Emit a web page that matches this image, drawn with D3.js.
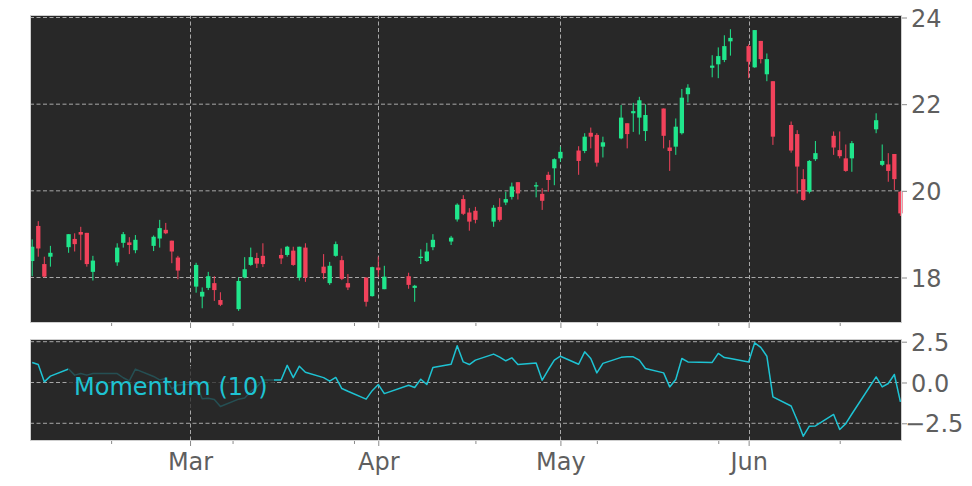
<!DOCTYPE html>
<html><head><meta charset="utf-8">
<script src="https://cdnjs.cloudflare.com/ajax/libs/d3/7.8.5/d3.min.js"></script>
<style>body{margin:0;background:#fff}svg{display:block}text{font-family:"DejaVu Sans",sans-serif}</style>
</head><body><svg id="c" width="972" height="486"></svg>
<script>
const dates = ["2015-02-03","2015-02-04","2015-02-05","2015-02-06","2015-02-09","2015-02-10","2015-02-11","2015-02-12","2015-02-13","2015-02-17",
"2015-02-18","2015-02-19","2015-02-20","2015-02-23","2015-02-24","2015-02-25","2015-02-26","2015-02-27","2015-03-02","2015-03-03",
"2015-03-04","2015-03-05","2015-03-06","2015-03-09","2015-03-10","2015-03-11","2015-03-12","2015-03-13","2015-03-16","2015-03-17",
"2015-03-18","2015-03-19","2015-03-20","2015-03-23","2015-03-24","2015-03-25","2015-03-26","2015-03-27","2015-03-30","2015-03-31",
"2015-04-01","2015-04-02","2015-04-06","2015-04-07","2015-04-08","2015-04-09","2015-04-10","2015-04-13","2015-04-14","2015-04-15",
"2015-04-16","2015-04-17","2015-04-20","2015-04-21","2015-04-22","2015-04-23","2015-04-24","2015-04-27","2015-04-28","2015-04-29",
"2015-04-30","2015-05-01","2015-05-04","2015-05-05","2015-05-06","2015-05-07","2015-05-08","2015-05-11","2015-05-12","2015-05-13",
"2015-05-14","2015-05-15","2015-05-18","2015-05-19","2015-05-20","2015-05-21","2015-05-22","2015-05-26","2015-05-27","2015-05-28",
"2015-05-29","2015-06-01","2015-06-02","2015-06-03","2015-06-04","2015-06-05","2015-06-08","2015-06-09","2015-06-10","2015-06-11",
"2015-06-12","2015-06-15","2015-06-16","2015-06-17","2015-06-18","2015-06-22","2015-06-23","2015-06-24","2015-06-25","2015-06-26"];
const open = [18.38,19.19,18.31,18.48,18.70,18.89,19.05,19.03,18.13,18.35,
18.80,18.81,18.63,18.73,18.90,19.10,18.85,18.46,17.79,17.56,
17.76,17.87,17.48,17.27,18.00,18.29,18.45,18.50,18.52,18.52,
18.62,18.00,18.69,18.25,17.87,18.50,18.40,17.87,18.00,17.57,
18.23,17.73,18.03,17.76,18.45,18.38,18.70,18.83,19.34,19.81,
19.50,19.54,19.29,19.63,19.73,19.86,20.20,20.10,19.93,20.37,
20.52,20.75,20.93,20.92,21.34,21.29,21.02,21.21,21.56,21.79,
21.69,21.38,21.90,21.00,21.02,21.33,22.23,22.84,22.92,23.02,
23.45,23.34,22.85,23.46,22.69,22.53,21.52,21.31,20.27,19.98,
20.73,21.27,20.94,20.75,20.75,21.42,20.60,20.61,20.85,19.98];
const high = [18.88,19.30,18.48,18.73,19.00,19.02,19.17,19.03,18.50,18.79,
19.05,18.93,18.98,18.97,19.33,19.26,18.85,18.50,18.34,17.77,
18.13,18.03,17.66,18.00,18.47,18.69,18.57,18.79,18.67,18.73,
18.71,18.71,18.79,18.54,18.36,18.83,18.50,18.08,18.00,18.25,
18.48,18.27,18.11,17.83,18.65,18.80,19.00,18.96,19.71,19.90,
19.60,19.63,19.67,19.83,19.98,20.19,20.20,20.20,20.06,20.44,
20.75,21.02,21.03,21.33,21.46,21.33,21.25,21.98,21.56,22.03,
22.17,22.00,21.90,21.17,21.67,22.35,22.46,23.13,23.31,23.59,
23.73,23.38,23.71,23.46,23.17,22.53,21.60,21.40,20.50,20.71,
21.15,21.37,21.37,21.07,21.15,21.79,21.07,20.87,20.85,20.00];
const low = [18.03,18.48,18.00,18.25,18.57,18.60,18.40,18.25,17.93,18.27,
18.69,18.54,18.56,18.61,18.69,19.00,18.33,17.96,17.65,17.29,
17.71,17.46,17.34,17.23,17.98,18.27,18.22,18.24,18.31,18.48,
18.27,17.93,17.90,17.96,17.83,18.48,17.94,17.71,17.33,17.56,
18.02,17.73,17.74,17.44,18.31,18.36,18.63,18.75,19.29,19.44,
19.08,19.25,19.17,19.29,19.67,19.80,19.80,19.85,19.56,19.98,
20.13,20.67,20.37,20.87,20.98,20.56,20.77,21.19,20.98,21.36,
21.30,21.15,20.98,20.46,20.83,21.30,22.04,22.62,22.60,22.97,
23.12,22.60,22.84,22.94,22.53,21.06,20.88,19.94,19.77,19.94,
20.69,20.83,20.75,20.44,20.44,21.33,20.57,20.21,20.02,19.42];
const close = [18.71,18.67,18.02,18.57,19.00,18.77,18.99,18.31,18.39,18.69,
19.00,18.75,18.87,18.94,19.14,19.02,18.60,18.16,18.29,17.67,
18.03,17.71,17.37,17.92,18.19,18.47,18.32,18.31,18.44,18.71,
18.29,18.71,18.00,18.10,18.27,18.77,17.97,17.77,17.44,18.24,
18.17,18.02,17.83,17.81,18.48,18.60,18.87,18.92,19.68,19.47,
19.29,19.33,19.61,19.33,19.81,20.10,19.94,20.13,19.77,20.25,
20.73,20.90,20.69,21.25,21.25,20.65,21.12,21.69,21.31,21.84,
22.09,21.75,21.27,20.92,21.48,22.15,22.38,22.89,23.11,23.34,
23.53,22.98,23.71,23.04,23.04,21.25,20.93,20.56,19.79,20.69,
20.87,21.00,20.80,20.46,21.10,21.63,20.69,20.46,20.27,19.48];
const momentum = [1.23,1.10,0.04,0.39,0.83,0.45,0.55,0.45,0.55,0.55,
0.29,0.10,0.82,0.37,0.16,0.25,-0.39,-0.15,-0.10,-1.00,
-0.97,-1.04,-1.47,-1.02,-0.95,-0.55,-0.28,0.15,0.15,1.05,
0.30,1.00,0.63,0.30,0.08,0.31,-0.37,-0.54,-1.02,-0.50,
-0.12,-0.68,-0.17,-0.31,0.20,-0.12,0.92,1.12,2.25,1.26,
1.10,1.37,1.74,1.55,1.33,1.51,1.10,1.20,0.14,0.78,
1.37,1.61,1.12,1.88,1.47,0.59,1.17,1.54,1.57,1.57,
1.37,0.86,0.59,-0.27,0.18,1.47,1.26,1.23,1.78,1.53,
1.47,1.26,2.43,2.15,1.61,-0.88,-1.44,-2.31,-3.29,-2.68,
-2.66,-1.96,-2.88,-2.52,-1.93,0.34,-0.27,-0.06,0.49,-1.19];
const priceTicks = [18,20,22,24];
const momTicks = [2.5,0.0,-2.5];
const monthTicks = ["2015-03-01","2015-04-01","2015-05-01","2015-06-01"];
const monthLabels = ["Mar","Apr","May","Jun"];
const minorTicks = ["2015-02-16","2015-03-08","2015-03-28","2015-04-17","2015-05-07","2015-05-27","2015-06-16"];
const legendLabel = "Momentum (10)";

const DAY = 86400000;
const parse = s => new Date(s + "T00:00:00Z");
const data = dates.map((d,i)=>({d:parse(d),o:open[i],h:high[i],l:low[i],c:close[i],m:momentum[i]}));

const L=30,R=902, mT=15,mB=323, pT=339,pB=441;
const x = d3.scaleUtc().domain([new Date(parse(dates[0]).getTime()-0.36*DAY), new Date(parse(dates[dates.length-1]).getTime()+0.26*DAY)]).range([L,R]);
const y = d3.scaleLinear().domain([16.95,24.058]).range([mB,mT]);
const ym = d3.scaleLinear().domain([-3.585,2.665]).range([pB,pT]);

const svg = d3.select("#c");
svg.append("rect").attr("width",972).attr("height",486).attr("fill","#fff");
const bg="#282828", gridC="#a8a8a8", frameC="#cfcfcf", tickC="#8a8a8a", labC="#5f5f5f";
const up="#20e68c", dn="#f2425b", lineC="#1ec3d3";

function panel(top,bot,ys,ticks){
  svg.append("rect").attr("x",L).attr("y",top).attr("width",R-L).attr("height",bot-top).attr("fill",bg);
  const g=svg.append("g");
  ticks.forEach(t=>g.append("line").attr("x1",L).attr("x2",R).attr("y1",ys(t)).attr("y2",ys(t)).attr("stroke",gridC).attr("stroke-width",1).attr("stroke-dasharray","4,2.5"));
  monthTicks.forEach(t=>{const xx=Math.round(x(parse(t)))+0.5;g.append("line").attr("x1",xx).attr("x2",xx).attr("y1",top).attr("y2",bot).attr("stroke",gridC).attr("stroke-width",1).attr("stroke-dasharray","4,2.5");});
}
panel(mT,mB,y,priceTicks);
panel(pT,pB,ym,momTicks);

// candles
const cg=svg.append("g");
const bw=4.3;
data.forEach(p=>{
  const col=p.c>=p.o?up:dn;
  const cx=x(p.d);
  cg.append("line").attr("x1",cx).attr("x2",cx).attr("y1",y(p.h)).attr("y2",y(p.l)).attr("stroke",col).attr("stroke-width",1);
  const t=y(Math.max(p.o,p.c)), b=y(Math.min(p.o,p.c));
  cg.append("rect").attr("x",cx-bw/2).attr("y",t).attr("width",bw).attr("height",Math.max(1.2,b-t)).attr("fill",col);
});

// momentum line
svg.append("path").datum(data).attr("d",d3.line().x(p=>x(p.d)).y(p=>ym(p.m))).attr("fill","none").attr("stroke",lineC).attr("stroke-width",1.5).attr("stroke-linejoin","round");

// legend
svg.append("rect").attr("x",68).attr("y",366).attr("width",206).attr("height",42).attr("fill",bg).attr("opacity",0.75);
svg.append("text").attr("x",74).attr("y",395).attr("fill",lineC).attr("font-size",24).text(legendLabel);

// frames
[[mT,mB],[pT,pB]].forEach(([t,b])=>svg.append("rect").attr("x",L+0.5).attr("y",t+0.5).attr("width",R-L-1).attr("height",b-t-1).attr("fill","none").attr("stroke",frameC).attr("stroke-width",1));

// y axes (right)
function yAxis(ys,ticks,fmt){
  const a=d3.axisRight(ys).tickValues(ticks).tickSize(5).tickPadding(4).tickFormat(fmt);
  const g=svg.append("g").attr("transform",`translate(${R},0)`).call(a);
  g.select(".domain").remove();
  g.selectAll(".tick line").attr("stroke",tickC);
  g.selectAll(".tick text").attr("fill",labC).attr("font-size",24).attr("font-family","DejaVu Sans").attr("dy","0.36em");
  return g;
}
yAxis(y,priceTicks,d=>String(d));
const gm=yAxis(ym,momTicks,d=>(d<0?"\u2212":"")+Math.abs(d).toFixed(1));
gm.selectAll(".tick text").attr("dx",d=>d<0?-6:0);

// x axes
function xAxis(yy,labels){
  const a=d3.axisBottom(x).tickValues(monthTicks.map(parse)).tickSize(5).tickPadding(7).tickFormat((d,i)=>labels?monthLabels[i]:"");
  const g=svg.append("g").attr("transform",`translate(0,${yy})`).call(a);
  g.select(".domain").remove();
  g.selectAll(".tick line").attr("stroke",tickC);
  g.selectAll(".tick text").attr("fill",labC).attr("font-size",24).attr("font-family","DejaVu Sans");
  const b=d3.axisBottom(x).tickValues(minorTicks.map(parse)).tickSize(3).tickFormat("");
  const g2=svg.append("g").attr("transform",`translate(0,${yy})`).call(b);
  g2.select(".domain").remove();
  g2.selectAll(".tick line").attr("stroke",tickC);
}
xAxis(mB,false);
xAxis(pB,true);
</script></body></html>
